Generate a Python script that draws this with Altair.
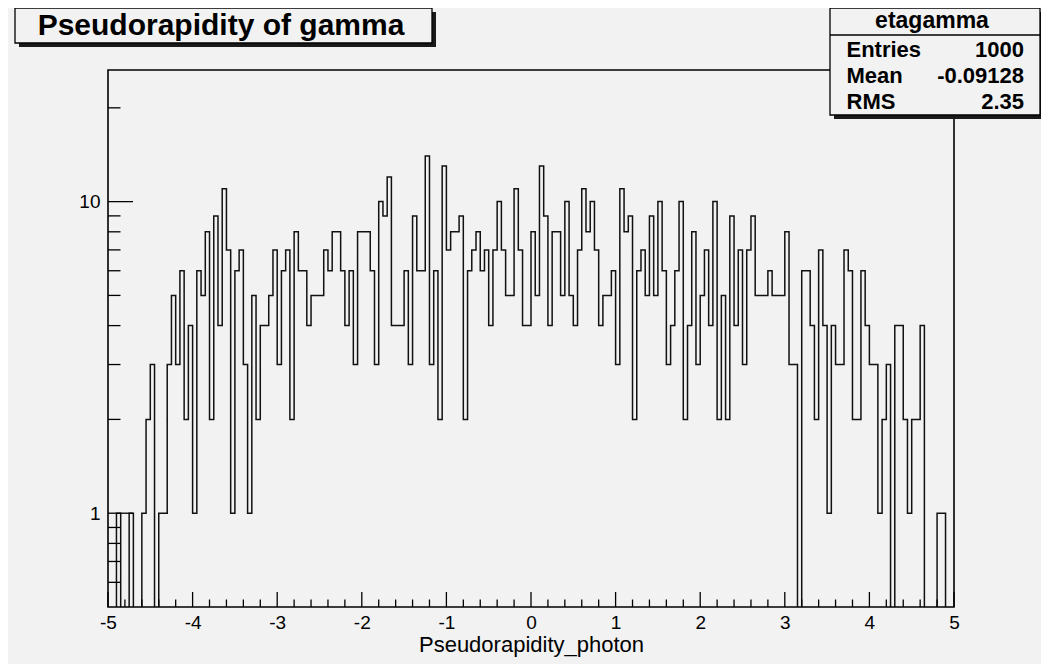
import altair as alt
import numpy as np
import pandas as pd

# ---------------- data ----------------
x_min, x_max, n_bins = -5.0, 5.0, 200
counts = [
    0, 0, 1, 0, 0, 1, 0, 0, 1, 2,
    3, 0, 1, 1, 3, 5, 3, 6, 2, 4,
    1, 6, 5, 8, 2, 9, 4, 11, 7, 1,
    6, 7, 3, 1, 5, 2, 4, 4, 5, 7,
    3, 6, 7, 2, 8, 6, 6, 4, 5, 5,
    5, 7, 6, 8, 8, 6, 4, 6, 3, 8,
    8, 8, 6, 3, 10, 9, 12, 4, 4, 4,
    6, 3, 9, 6, 6, 14, 3, 6, 2, 13,
    7, 8, 8, 9, 2, 6, 7, 8, 6, 7,
    4, 7, 10, 7, 5, 5, 11, 7, 4, 4,
    8, 5, 13, 9, 4, 8, 8, 5, 10, 5,
    4, 7, 11, 8, 10, 7, 4, 5, 5, 6,
    3, 11, 8, 9, 2, 6, 7, 5, 9, 5,
    10, 6, 3, 4, 6, 10, 2, 4, 8, 3,
    5, 7, 4, 10, 2, 5, 2, 9, 4, 7,
    3, 7, 9, 5, 5, 5, 6, 5, 5, 5,
    8, 3, 3, 0, 6, 6, 4, 2, 7, 4,
    1, 4, 3, 3, 7, 6, 2, 2, 6, 4,
    3, 3, 1, 2, 3, 0, 4, 4, 2, 1,
    2, 2, 4, 0, 0, 0, 1, 1, 0, 0,
]
title_text = "Pseudorapidity of gamma"
x_title = "Pseudorapidity_photon"
stats_name = "etagamma"
stats_labels = ["Entries", "Mean", "RMS"]
stats_values = ["1000", "-0.09128", "2.35"]
x_major = [-5, -4, -3, -2, -1, 0, 1, 2, 3, 4, 5]
x_minor = [round(-5 + 0.2 * k, 2) for k in range(51) if k % 5 != 0]
y_major = [1, 10]
y_minor = [0.6, 0.7, 0.8, 0.9, 2, 3, 4, 5, 6, 7, 8, 9, 20]
y_domain = [0.5, 26.45]

# ---------------- layout ----------------
W, H = 846, 537
BG = "#f2f2f2"
FONT = "Liberation Sans"

edges = np.linspace(x_min, x_max, n_bins + 1)
vals = counts + [counts[-1]]
hist_df = pd.DataFrame({"eta": edges, "n": [c if c > 0 else 0.2 for c in vals]})

xs = alt.Scale(domain=[x_min, x_max], nice=False, zero=False)
ys = alt.Scale(type="log", domain=y_domain, nice=False)

x_axis = alt.Axis(
    values=x_major, labelExpr="datum.value + ''", ticks=False, domain=False,
    grid=False, labelFont=FONT, labelFontSize=19, labelColor="black",
    labelPadding=21, labelBaseline="alphabetic", labelFlush=False,
    labelOverlap=False, title=x_title, titleFont=FONT, titleFontSize=22,
    titleFontWeight="normal", titleColor="black", titleX=W / 2, titleY=44,
    titleBaseline="alphabetic", titleAlign="center")
y_axis = alt.Axis(
    values=y_major, labelExpr="datum.value + ''", ticks=False, domain=False,
    grid=False, labelFont=FONT, labelFontSize=19, labelColor="black",
    labelPadding=8, labelFlush=False, labelOverlap=False, title=None)

hist = alt.Chart(hist_df).mark_line(
    interpolate="step-after", color="#111111", strokeWidth=1.5, clip=True
).encode(
    x=alt.X("eta:Q", scale=xs, axis=x_axis),
    y=alt.Y("n:Q", scale=ys, axis=y_axis),
)

dummy = pd.DataFrame({"a": [0]})

frame = alt.Chart(dummy).mark_rect(fill=None, stroke="black", strokeWidth=1.6).encode(
    x=alt.value(0), x2=alt.value(W), y=alt.value(0), y2=alt.value(H))

xmaj = alt.Chart(pd.DataFrame({"eta": x_major})).mark_rule(color="black", strokeWidth=1.3).encode(
    x=alt.X("eta:Q", scale=xs, axis=x_axis), y=alt.value(H), y2=alt.value(H - 15))
xmin_ = alt.Chart(pd.DataFrame({"eta": x_minor})).mark_rule(color="black", strokeWidth=1.3).encode(
    x=alt.X("eta:Q", scale=xs, axis=x_axis), y=alt.value(H), y2=alt.value(H - 7.5))
ymaj = alt.Chart(pd.DataFrame({"n": y_major})).mark_rule(color="black", strokeWidth=1.3).encode(
    y=alt.Y("n:Q", scale=ys, axis=y_axis), x=alt.value(0), x2=alt.value(25))
ymin_ = alt.Chart(pd.DataFrame({"n": y_minor})).mark_rule(color="black", strokeWidth=1.3).encode(
    y=alt.Y("n:Q", scale=ys, axis=y_axis), x=alt.value(0), x2=alt.value(12.5))


def box(x0, x1, y0, y1, sh=4):
    shadow = alt.Chart(dummy).mark_rect(color="#1a1a1a").encode(
        x=alt.value(x0 + sh), x2=alt.value(x1 + sh), y=alt.value(y0 + sh), y2=alt.value(y1 + sh))
    body = alt.Chart(dummy).mark_rect(fill=BG, stroke="black", strokeWidth=1.3).encode(
        x=alt.value(x0), x2=alt.value(x1), y=alt.value(y0), y2=alt.value(y1))
    return [shadow, body]


def label(text, x, y, size, align="left", weight="bold"):
    return alt.Chart(pd.DataFrame({"s": [text]})).mark_text(
        font=FONT, fontSize=size, fontWeight=weight, align=align,
        baseline="alphabetic", color="black").encode(
        text="s:N", x=alt.value(x), y=alt.value(y))


layers = [hist, frame, xmaj, xmin_, ymaj, ymin_]

# title box
layers += box(-93, 324, -62, -27)
layers.append(label(title_text, 113, -35, 30, align="center"))

# stats box
layers += box(722, 932, -62, 45)
layers.append(alt.Chart(dummy).mark_rule(color="black", strokeWidth=1.3).encode(
    x=alt.value(722), x2=alt.value(932), y=alt.value(-35)))
layers.append(label(stats_name, 824, -42.5, 23, align="center"))
row_y = [-13.5, 13, 39]
for lab, val, yy in zip(stats_labels, stats_values, row_y):
    layers.append(label(lab, 738.5, yy, 22, align="left"))
    layers.append(label(val, 916, yy, 22, align="right"))

chart = alt.layer(*layers).properties(
    width=W, height=H,
    autosize=alt.AutoSizeParams(type="none"),
    padding={"left": 100, "top": 62, "right": 87, "bottom": 57},
    background=BG,
).configure_view(stroke=None, fill=BG)

chart.save("out.html", embed_options={"renderer": "svg", "actions": False})
